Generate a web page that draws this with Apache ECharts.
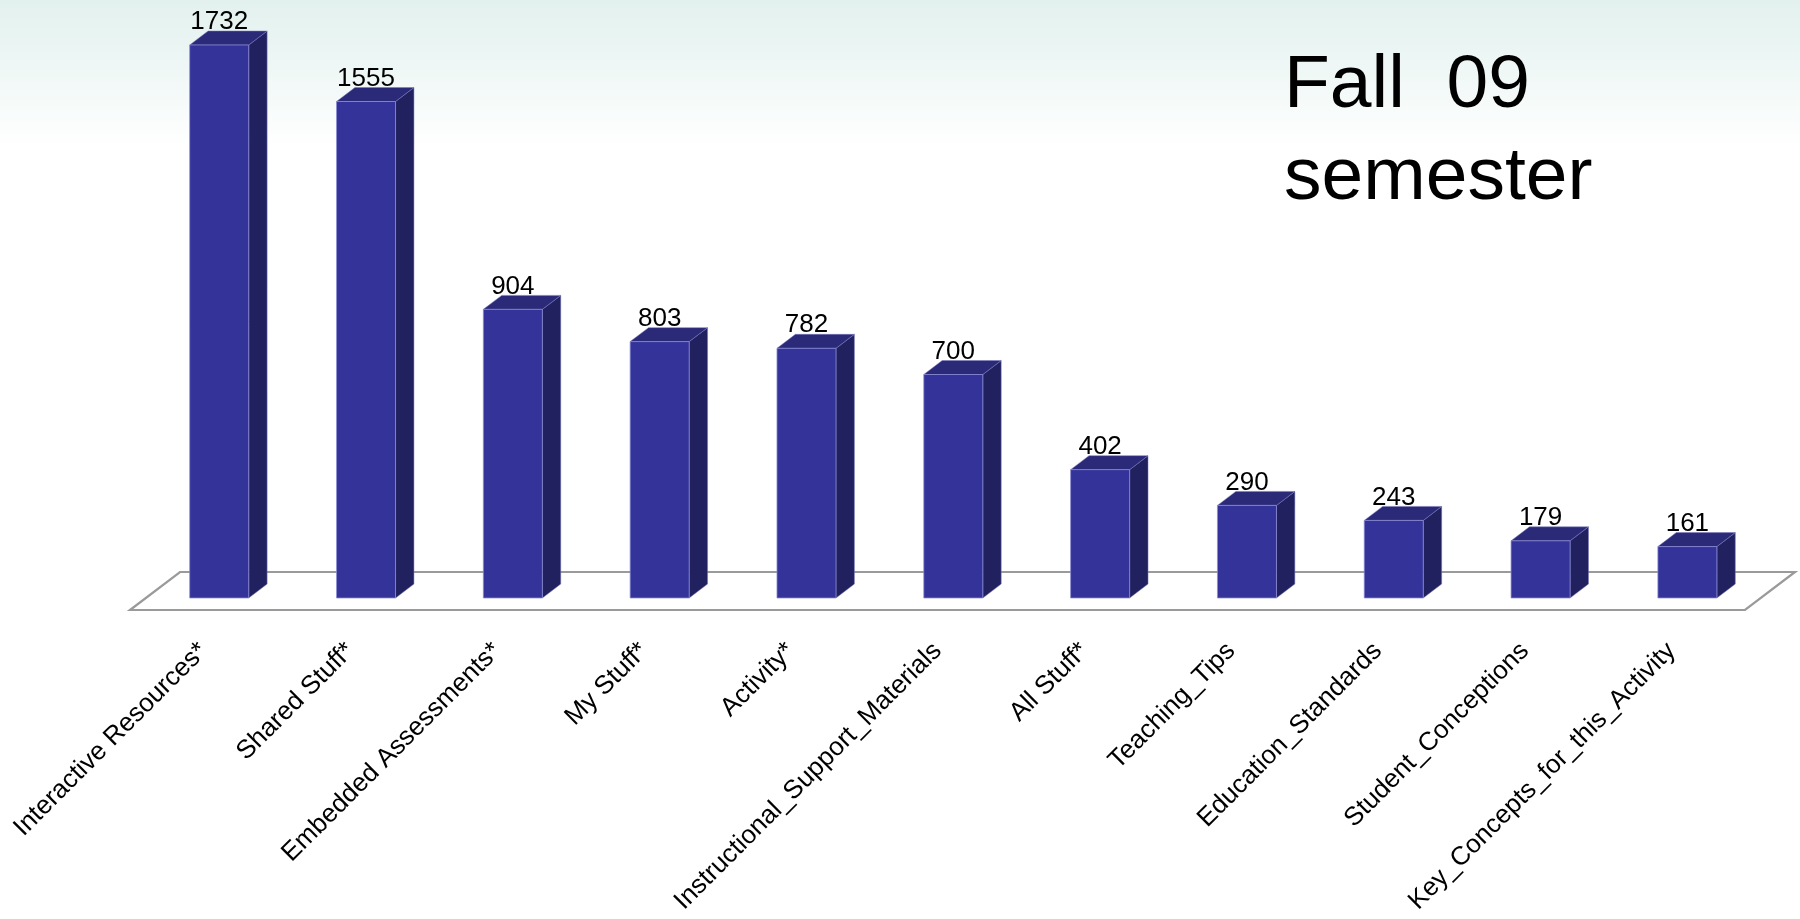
<!DOCTYPE html>
<html>
<head>
<meta charset="utf-8">
<style>
  html, body { margin: 0; padding: 0; width: 1800px; height: 919px; overflow: hidden; background: #fff; }
  #chart { width: 1800px; height: 919px; }
</style>
<script src="https://cdn.jsdelivr.net/npm/echarts@6/dist/echarts.min.js"></script>
</head>
<body>
<div id="chart"></div>
<script>
// Resource usage counts for the Fall 09 semester
const categories = [
  'Interactive Resources*',
  'Shared Stuff*',
  'Embedded Assessments*',
  'My Stuff*',
  'Activity*',
  'Instructional_Support_Materials',
  'All Stuff*',
  'Teaching_Tips',
  'Education_Standards',
  'Student_Conceptions',
  'Key_Concepts_for_this_Activity'
];
const counts = [1732, 1555, 904, 803, 782, 700, 402, 290, 243, 179, 161];
const titleLines = ['Fall  09', 'semester'];

// Pseudo-3D projection: depth vector of the floor, and the depth slice occupied by each bar
const FLOOR_DX = 50, FLOOR_DY = -38;
const BAR_FRONT = 0.316, BAR_BACK = 0.684;
const BAR_WIDTH_RATIO = 0.402;

const FONT = '"Liberation Sans", Arial, Helvetica, sans-serif';
const FRONT_COLOR = '#333399';
const SIDE_COLOR = '#222160';
const TOP_COLOR = '#2b2a78';

const chart = echarts.init(document.getElementById('chart'), null, { renderer: 'canvas' });

function renderFloor(params, api) {
  const cs = params.coordSys;
  const x0 = cs.x, x1 = cs.x + cs.width, yb = cs.y + cs.height;
  return {
    type: 'polygon',
    shape: {
      points: [
        [x0, yb], [x1, yb],
        [x1 + FLOOR_DX, yb + FLOOR_DY], [x0 + FLOOR_DX, yb + FLOOR_DY]
      ]
    },
    style: { fill: '#ffffff', stroke: '#9a9a9a', lineWidth: 2.2 }
  };
}

function renderBar(params, api) {
  const idx = api.value(0);
  const val = api.value(1);
  const base = api.coord([idx, 0]);
  const top = api.coord([idx, val]);
  const band = api.size([1, 0])[0];
  const w = band * BAR_WIDTH_RATIO;

  const fdx = FLOOR_DX * BAR_FRONT, fdy = FLOOR_DY * BAR_FRONT;
  const ddx = FLOOR_DX * (BAR_BACK - BAR_FRONT), ddy = FLOOR_DY * (BAR_BACK - BAR_FRONT);

  const cx = base[0] + fdx;
  const x0 = cx - w / 2, x1 = cx + w / 2;
  const yb = base[1] + fdy;
  const yt = top[1] + fdy;

  return {
    type: 'group',
    children: [
      {
        type: 'polygon',
        shape: { points: [[x1, yb], [x1 + ddx, yb + ddy], [x1 + ddx, yt + ddy], [x1, yt]] },
        style: { fill: SIDE_COLOR, stroke: 'rgba(120,120,190,0.5)', lineWidth: 1 }
      },
      {
        type: 'polygon',
        shape: { points: [[x0, yt], [x1, yt], [x1 + ddx, yt + ddy], [x0 + ddx, yt + ddy]] },
        style: { fill: TOP_COLOR, stroke: 'rgba(120,120,190,0.5)', lineWidth: 1 }
      },
      {
        type: 'rect',
        shape: { x: x0, y: yt, width: w, height: yb - yt },
        style: { fill: FRONT_COLOR, stroke: 'rgba(140,140,215,0.75)', lineWidth: 1 }
      },
      {
        type: 'text',
        x: cx,
        y: yt - 23,
        style: {
          text: String(val),
          fill: '#000',
          font: '26px ' + FONT,
          align: 'center',
          verticalAlign: 'middle'
        }
      }
    ]
  };
}

const option = {
  animation: false,
  backgroundColor: {
    type: 'linear', x: 0, y: 0, x2: 0, y2: 1,
    colorStops: [
      { offset: 0, color: '#e3f1ee' },
      { offset: 0.06, color: '#ecf6f4' },
      { offset: 0.16, color: '#ffffff' },
      { offset: 1, color: '#ffffff' }
    ]
  },
  title: {
    text: titleLines.join('\n'),
    left: 1284,
    top: 40,
    padding: 0,
    textStyle: {
      fontFamily: FONT,
      fontSize: 75,
      lineHeight: 92,
      fontWeight: 'normal',
      color: '#000'
    }
  },
  grid: {
    left: 130,
    width: 1615,
    top: 35.3,
    bottom: 309,
    containLabel: false
  },
  xAxis: {
    type: 'category',
    data: categories,
    axisLine: { show: false },
    axisTick: { show: false },
    splitLine: { show: false },
    axisLabel: {
      interval: 0,
      rotate: 45,
      margin: 37,
      color: '#000',
      fontFamily: FONT,
      fontSize: 26
    }
  },
  yAxis: {
    type: 'value',
    min: 0,
    max: 1800,
    show: false
  },
  series: [
    {
      name: 'floor',
      type: 'custom',
      z: 1,
      silent: true,
      renderItem: renderFloor,
      data: [[0, 0]]
    },
    {
      name: 'count',
      type: 'custom',
      z: 2,
      renderItem: renderBar,
      encode: { x: 0, y: 1 },
      data: counts.map((c, i) => [i, c])
    }
  ]
};

chart.setOption(option);
</script>
</body>
</html>
